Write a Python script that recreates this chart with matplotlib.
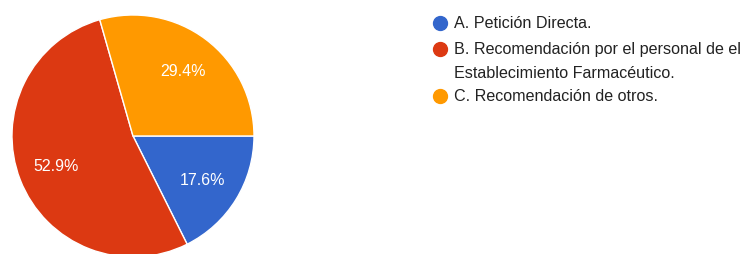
import matplotlib.pyplot as plt
from matplotlib.lines import Line2D

labels = ["A. Petición Directa.",
          "B. Recomendación por el personal de el\nEstablecimiento Farmacéutico.",
          "C. Recomendación de otros."]
values = [17.6, 52.9, 29.4]
colors = ["#3366cc", "#dc3912", "#ff9900"]

plt.rcParams['font.family'] = ['Liberation Sans', 'DejaVu Sans']

W, H = 749, 255
fig = plt.figure(figsize=(W / 100, H / 100), dpi=100)

# pie: centre (133, 137) px from top, radius 121 px
cx, cy, r = 133, 137, 121
ax = fig.add_axes([(cx - r) / W, (H - cy - r) / H, 2 * r / W, 2 * r / H])
pct = iter(values)
wedges, texts, autotexts = ax.pie(
    values, colors=colors, startangle=0, counterclock=False,
    autopct=lambda p: '%.1f%%' % next(pct), pctdistance=0.68, radius=1,
    wedgeprops=dict(edgecolor='white', linewidth=1),
    textprops=dict(color='white', fontsize=11.5))
ax.set_xlim(-1, 1)
ax.set_ylim(-1, 1)
ax.set_aspect('auto')
ax.axis('off')

# legend drawn by hand
ys = [24, 49.5, 97]
for lab, col, y in zip(labels, colors, ys):
    fig.add_artist(Line2D([440 / W], [1 - y / H], marker='o', color=col,
                          markersize=10, linestyle='none',
                          transform=fig.transFigure))
    for i, line in enumerate(lab.split('\n')):
        fig.text(454 / W, 1 - (y + 23.5 * i) / H, line, fontsize=11.6,
                 color='#222222', va='center', ha='left')

fig.savefig('out.png', dpi=100)
